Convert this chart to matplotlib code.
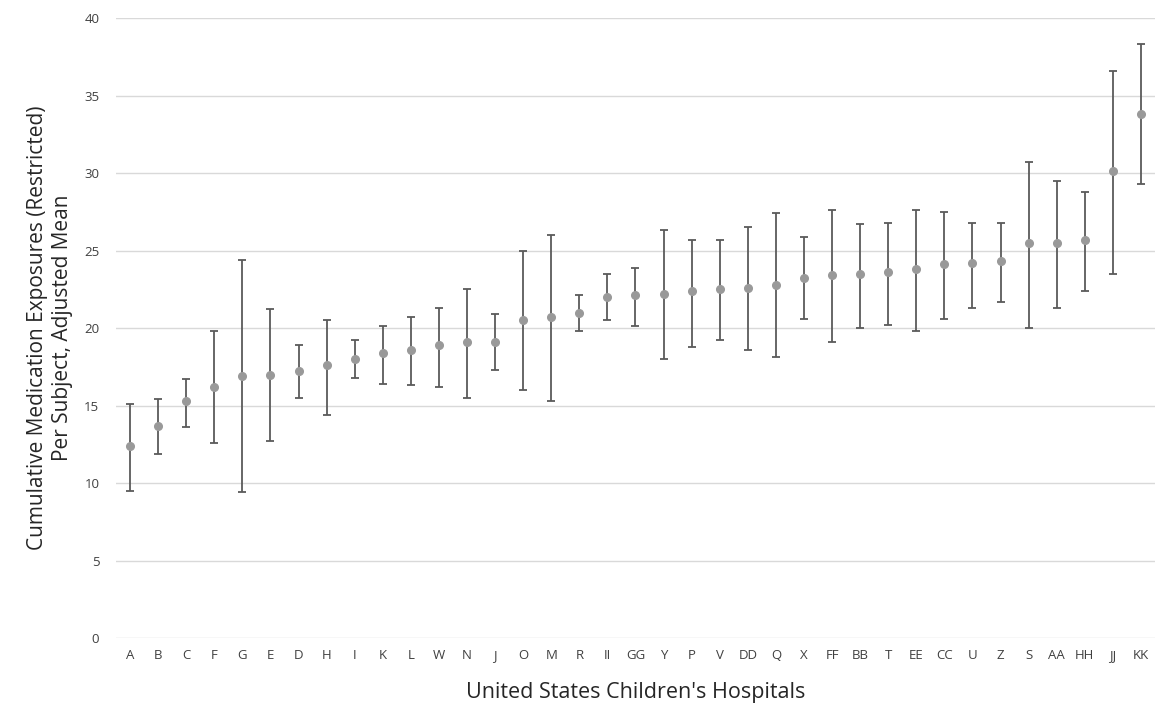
import matplotlib
matplotlib.use("Agg")
import matplotlib.pyplot as plt
import numpy as np

hospitals = ["A","B","C","F","G","E","D","H","I","K","L","W","N","J","O","M","R","II","GG",
             "Y","P","V","DD","Q","X","FF","BB","T","EE","CC","U","Z","S","AA","HH","JJ","KK"]
means = [12.4,13.7,15.3,16.2,16.9,17.0,17.2,17.6,18.0,18.4,18.6,18.9,19.1,19.1,20.5,20.7,21.0,22.0,22.1,
         22.2,22.4,22.5,22.6,22.8,23.2,23.4,23.5,23.6,23.8,24.1,24.2,24.3,25.5,25.5,25.7,30.1,33.8]
lower = [9.5,11.9,13.6,12.6,9.4,12.7,15.5,14.4,16.8,16.4,16.3,16.2,15.5,17.3,16.0,15.3,19.8,20.5,20.1,
         18.0,18.8,19.2,18.6,18.1,20.6,19.1,20.0,20.2,19.8,20.6,21.3,21.7,20.0,21.3,22.4,23.5,29.3]
upper = [15.1,15.4,16.7,19.8,24.4,21.2,18.9,20.5,19.2,20.1,20.7,21.3,22.5,20.9,25.0,26.0,22.1,23.5,23.9,
         26.3,25.7,25.7,26.5,27.4,25.9,27.6,26.7,26.8,27.6,27.5,26.8,26.8,30.7,29.5,28.8,36.6,38.3]
yticks = [0,5,10,15,20,25,30,35,40]

plt.rcParams['font.family'] = ['Open Sans', 'DejaVu Sans']
fig = plt.figure(figsize=(11.62, 7.06), dpi=100)
ax = fig.add_axes([0.0998, 0.0963, 0.8942, 0.8782])

x = np.arange(len(hospitals))
m = np.array(means); lo = np.array(lower); hi = np.array(upper)
ax.errorbar(x, m, yerr=[m - lo, hi - m], fmt='o', color='#999999', markersize=5.5,
            ecolor='#5a5a5a', elinewidth=1.3, capsize=3, capthick=1.3, zorder=3)

ax.set_xlim(-0.5, len(hospitals) - 0.5)
ax.set_ylim(0, 40)
ax.set_yticks(yticks)
ax.set_xticks(x)
ax.set_xticklabels(hospitals)
ax.grid(axis='y', color='#d9d9d9', linewidth=1)
ax.set_axisbelow(True)
for s in ax.spines.values():
    s.set_visible(False)
ax.tick_params(axis='both', length=0, labelsize=9.5, labelcolor='#404040')
ax.tick_params(axis='y', pad=12)
ax.tick_params(axis='x', pad=8)

ax.set_ylabel("Cumulative Medication Exposures (Restricted)\nPer Subject, Adjusted Mean",
              fontsize=15, color='#262626', labelpad=8, linespacing=1.25)
ax.set_xlabel("United States Children's Hospitals", fontsize=15.5, color='#262626', labelpad=14)

fig.savefig("out.png", dpi=100)
